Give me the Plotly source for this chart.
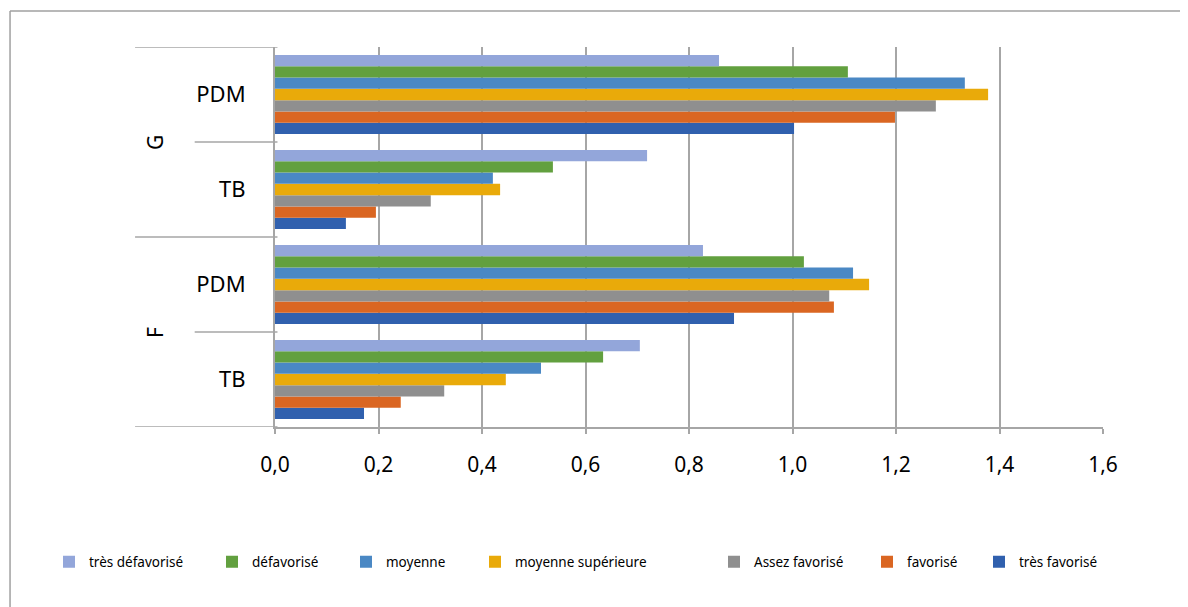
import plotly.graph_objects as go

# categories (bottom -> top)
groups = ["F", "F", "G", "G"]
subgroups = ["TB", "PDM", "TB", "PDM"]
cats = [g + "-" + s for g, s in zip(groups, subgroups)]

# series, listed bottom bar first within each group
series = ["très favorisé", "favorisé", "Assez favorisé", "moyenne supérieure",
          "moyenne", "défavorisé", "très défavorisé"]
values = {
    "très favorisé":      [0.172, 0.887, 0.137, 1.003],
    "favorisé":           [0.243, 1.080, 0.195, 1.198],
    "Assez favorisé":     [0.327, 1.071, 0.301, 1.277],
    "moyenne supérieure": [0.446, 1.148, 0.435, 1.378],
    "moyenne":            [0.514, 1.117, 0.421, 1.333],
    "défavorisé":         [0.634, 1.022, 0.537, 1.107],
    "très défavorisé":    [0.705, 0.827, 0.719, 0.858],
}
colors = {
    "très favorisé": "#3060AE",
    "favorisé": "#DA6622",
    "Assez favorisé": "#8F8F8F",
    "moyenne supérieure": "#E9AA0A",
    "moyenne": "#4A88C4",
    "défavorisé": "#62A03F",
    "très défavorisé": "#93A6DA",
}
# legend left edges (px in figure), in legend order
legend_order = series[::-1]
legend_px = [55, 218, 352, 481, 720, 873, 985]

font = "Noto Sans"
L, T, W, H = 267, 39, 828, 380  # plot area (page is offset by 8px body margin)


def px_to_paper_x(px):
    return (px - L) / W


fig = go.Figure()
for s in series:
    k = legend_order.index(s)
    fig.add_trace(go.Bar(y=cats, x=values[s], name=s, orientation="h",
                         legend="legend" if k == 0 else "legend%d" % (k + 1),
                         marker=dict(color=colors[s], line=dict(width=0))))

grid = "#A6A6A6"
shapes = []
# frame (top and left edges of the chart area box)
shapes.append(dict(type="line", xref="paper", yref="paper", x0=-0.320, x1=1.2,
                   y0=1.095, y1=1.095, line=dict(color="#A0A0A0", width=1.5)))
shapes.append(dict(type="line", xref="paper", yref="paper", x0=-0.320, x1=-0.320,
                   y0=1.095, y1=-0.6, line=dict(color="#A0A0A0", width=1.5)))
# group separators on the category axis
for yv, x0 in [(3.5, -0.169), (1.5, -0.169), (-0.5, -0.169), (2.5, -0.097), (0.5, -0.097)]:
    shapes.append(dict(type="line", xref="paper", yref="y", x0=x0, x1=0.003,
                       y0=yv, y1=yv, line=dict(color=grid, width=1.5)))

layout = dict(
    width=1188, height=607,
    margin=dict(l=L, r=1188 - L - W, t=T, b=607 - T - H, autoexpand=False),
    paper_bgcolor="white", plot_bgcolor="white",
    separators=", ",
    barmode="group", bargap=0.17, bargroupgap=0,
    font=dict(family=font, color="#000000"),
    xaxis=dict(range=[0, 1.6], dtick=0.2, tick0=0, tickformat=".1f",
               showgrid=True, gridcolor=grid, gridwidth=2,
               zeroline=False, showline=True, linecolor=grid, linewidth=1.5,
               ticks="outside", ticklen=5, tickcolor=grid, tickwidth=1.5,
               ticklabelstandoff=13, tickfont=dict(size=21, family=font)),
    yaxis=dict(type="category", categoryarray=cats, tickvals=cats, ticktext=subgroups,
               showgrid=False, zeroline=False, showline=True, linecolor=grid,
               linewidth=2, ticks="", ticklabelstandoff=23,
               tickfont=dict(size=22, family=font), range=[-0.5, 3.5]),
    shapes=shapes,
    showlegend=True,
)
for k, px in enumerate(legend_px):
    key = "legend" if k == 0 else "legend%d" % (k + 1)
    layout[key] = dict(orientation="h", x=px_to_paper_x(px - 14), xanchor="left",
                       y=-0.355, yanchor="middle", bgcolor="rgba(0,0,0,0)",
                       font=dict(size=13.5, family=font), itemwidth=30)
fig.update_layout(**layout)

# outer group labels
for g, yc in [("G", 2.5), ("F", 0.5)]:
    fig.add_annotation(text=g, xref="paper", yref="y", x=-0.145, y=yc,
                       xanchor="center", yanchor="middle",
                       showarrow=False, textangle=-90, font=dict(size=21, family=font))

fig.write_html("out.html", config={"displayModeBar": False})
